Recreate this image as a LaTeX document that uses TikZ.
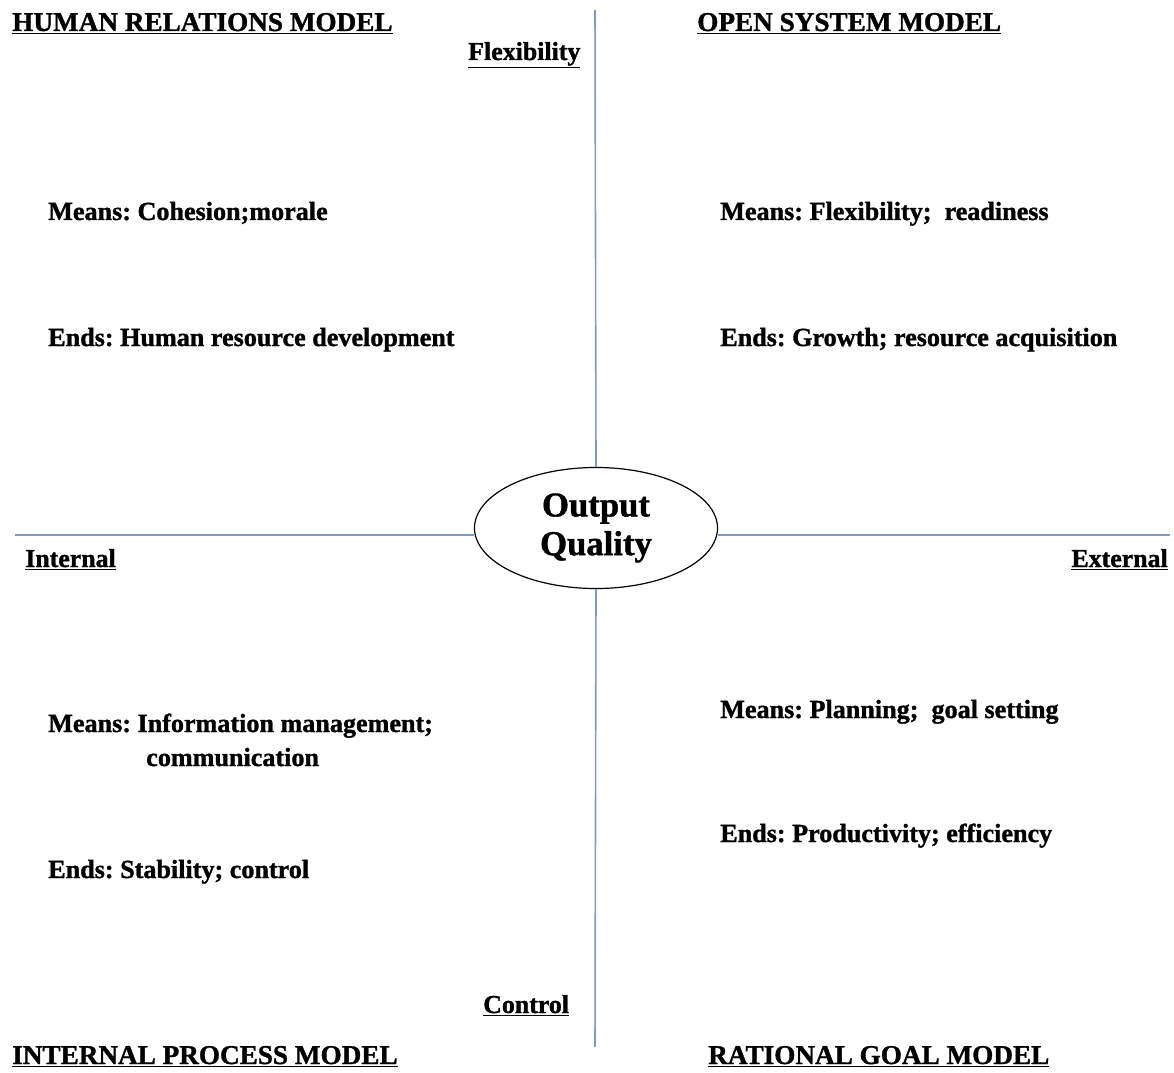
\documentclass[tikz,border=0pt]{standalone}
\usepackage{fontspec}
\setmainfont{Liberation Serif}[BoldFeatures={FakeBold=1.2}]
\usetikzlibrary{shapes.geometric}
\definecolor{axis}{HTML}{7C9DC2}
\tikzset{
  lbl/.style={anchor=base west, inner sep=0pt, font=\fontsize{19.6}{22}\selectfont\bfseries},
  ttl/.style={anchor=base west, inner sep=0pt, font=\fontsize{20.4}{22}\selectfont\bfseries},
  axl/.style={anchor=base west, inner sep=0pt, font=\fontsize{19.4}{22}\selectfont\bfseries},
  axisline/.style={draw=axis, line width=1.2pt},
}
\frenchspacing
\begin{document}
\begin{tikzpicture}[x=0.75pt,y=-0.75pt]
\useasboundingbox (0,0) rectangle (1174,1073);
\node[ellipse, draw, line width=0.9pt, minimum width=243*0.75pt, minimum height=121*0.75pt, inner sep=0pt,
  align=center, font=\fontsize{26}{29}\selectfont\bfseries] (oq) at (596,528) {Output\\Quality};
\coordinate (top) at (595,10);
\coordinate (bot) at (595,1047);
\coordinate (lft) at (15,535);
\coordinate (rgt) at (1170,535);
\draw[axisline] (top) -- (oq.north);
\draw[axisline] (oq.south) -- (bot);
\draw[axisline] (lft) -- (lft -| oq.west);
\draw[axisline] (rgt -| oq.east) -- (rgt);
% titles
\node[ttl] (hr) at (12,31) {\underline{HUMAN RELATIONS MODEL}};
\node[ttl] (os) at (697,31) {\underline{OPEN SYSTEM MODEL}};
\node[ttl] (ip) at (12,1064) {\underline{INTERNAL PROCESS MODEL}};
\node[ttl] (rg) at (708,1064) {\underline{RATIONAL GOAL MODEL}};
% axis labels
\node[axl] (flex) at (468,60) {\underline{Flexibility}};
\node[axl] (ctrl) at (483,1013) {\underline{Control}};
\node[axl] (int) at (25,567) {\underline{Internal}};
\node[axl, anchor=base east] (ext) at (1168,567) {\underline{External}};
% quadrant texts
\node[lbl] (m1) at (48,220) {Means: Cohesion;morale};
\node[lbl] (e1) at (48,346) {Ends: Human resource development};
\node[lbl] (m2) at (720,220) {Means: Flexibility;\ \ readiness};
\node[lbl] (e2) at (720,346) {Ends: Growth; resource acquisition};
\node[lbl] (m3) at (48,732) {Means: Information management;};
\node[lbl] (m3b) at (146,766) {communication};
\node[lbl] (e3) at (48,878) {Ends: Stability; control};
\node[lbl] (m4) at (720,718) {Means: Planning;\ \ goal setting};
\node[lbl] (e4) at (720,842) {Ends: Productivity; efficiency};
\end{tikzpicture}
\end{document}
